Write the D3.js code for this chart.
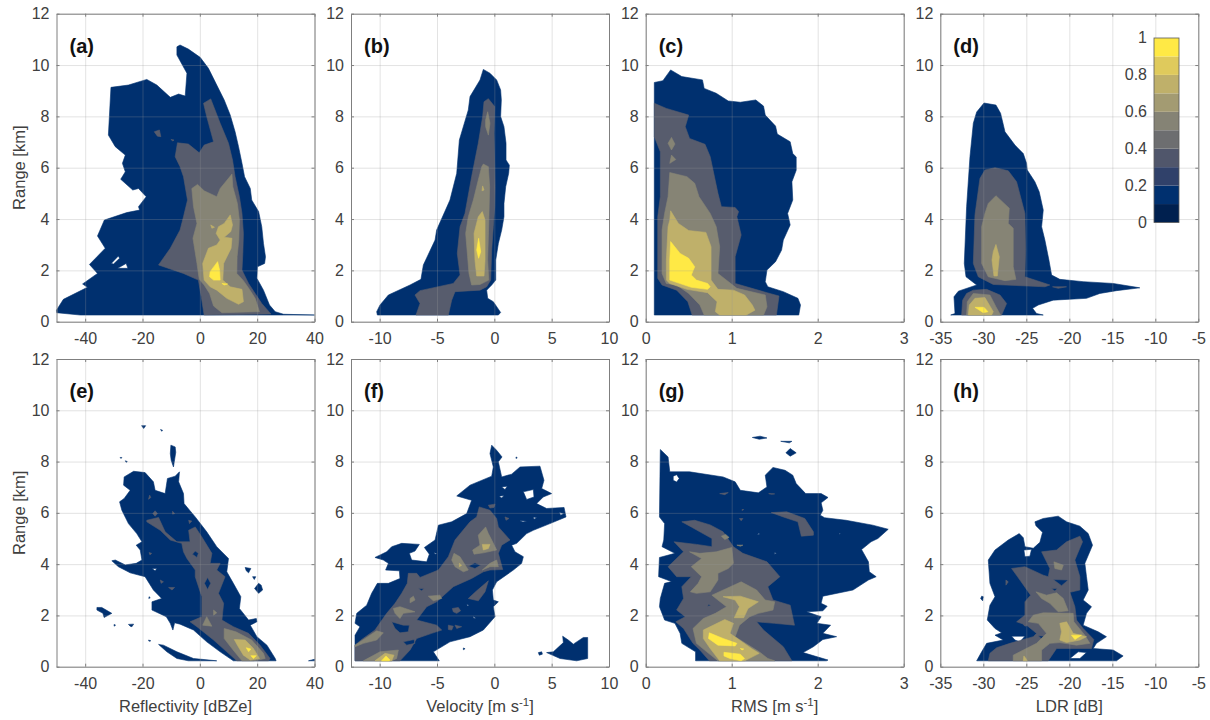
<!DOCTYPE html>
<html><head><meta charset="utf-8">
<script src="https://cdn.jsdelivr.net/npm/d3@7"></script>
<style>html,body{margin:0;padding:0;background:#fff}svg{display:block}</style>
</head><body><svg id="c" width="1210" height="720"></svg>
<script>
// contour bands as rings of [value, range km]
const a1=[[[-8,10.71],[-6.9,10.78],[-4,10.62],[.1,10.3],[3,9.87],[5.9,9.22],[8.5,8.64],[10.6,8.05],[12.3,7.4],[13.5,6.82],[14.7,6.17],[15.6,5.65],[17.6,5.19],[18.1,4.74],[20.5,4.29],[21.6,3.7],[22.2,3.05],[22.9,2.53],[22.6,2.27],[20.1,2.14],[19.9,1.69],[22.2,1.23],[24.3,.65],[26.3,.39],[29.2,.29],[40,.26],[-41.7,.26],[-49.9,.35],[-50,.45],[-47.6,.87],[-39.2,1.34],[-40.9,1.47],[-35.7,1.88],[-38.5,2.23],[-33,2.86],[-35.7,3.34],[-33.3,3.96],[-25.5,4.25],[-21,4.35],[-21.4,4.48],[-18.7,4.87],[-21.4,5.19],[-23.4,5.13],[-27.6,5.55],[-26,5.84],[-27,6.17],[-26,6.49],[-29.5,6.82],[-31.9,7.27],[-31,9.13],[-24.9,9.22],[-18.5,9.44],[-15,9.22],[-10.3,8.74],[-7.4,8.87],[-5.1,8.79],[-4.5,9.68],[-8,10.39]],
[[-30.9,2.27],[-28.4,2.56],[-28,2.47],[-30.1,2.25]],[[-28.7,2.08],[-25.7,2.27],[-25.1,2.08]]];
const a2=[[[1.3,8.51],[3.8,8.68],[7.1,7.73],[10,6.95],[11.4,6.3],[12.3,5.65],[13.8,4.87],[14.7,4.22],[15.2,3.44],[15,2.66],[14.7,2.01],[17,1.49],[19.3,1.1],[21.6,.71],[24.8,.3],[1.5,.26],[.5,.97],[-.5,1.62],[-5.7,1.88],[-14.4,2.21],[-10.3,2.86],[-6.9,3.57],[-5.7,4.09],[-4.3,4.74],[-5.7,5.65],[-6.9,6.04],[-8.6,6.43],[-7.8,6.97],[-4,6.92],[-.2,6.58],[1.5,6.88],[4.8,7.01],[2.4,7.99]],
[[-15.9,7.4],[-14.1,7.47],[-13.6,7.21],[-14.8,7.23]],[[-10.1,7.1],[-9,7.08],[-9.4,7.04]]];
const a3=[[[-2.8,5.19],[-.8,5.35],[1.5,5.1],[5.9,4.87],[7.1,5.19],[11.2,5.75],[11.5,5.26],[13.1,4.61],[13.8,3.96],[13.6,3.18],[13,2.53],[12.9,1.88],[15.2,1.6],[17.3,1.26],[19.3,.91],[20.8,.39],[7.7,.35],[4.8,.61],[3.4,1.1],[1.5,1.43],[-.2,1.65],[-1,2.27],[-2.4,3.25],[-1,3.83],[-2.2,4.48]]];
const a4=[[[10.6,4.16],[11.4,3.77],[10.8,3.51],[8.5,3.29],[11.2,3.25],[10.9,2.86],[8.3,2.27],[8,1.62],[10.6,1.36],[14.7,1.26],[15.2,.78],[13.5,.68],[9.4,.91],[5.9,1.23],[3.6,1.36],[1.5,1.62],[1,2.27],[3,2.86],[5.9,2.99],[7.1,3.18],[5.7,3.44],[6.5,3.7],[8.5,3.83]],[[3.8,3.77],[5.1,3.68],[4.2,3.64]]];
const a5=[[[6.2,2.34],[6.9,2.01],[7.1,1.62],[4.8,1.62],[3.4,1.75],[3.6,1.95]],[[7.7,1.49],[9.7,1.47],[8.5,1.43]]];

const b1=[[[-.96,9.83],[-.38,9.68],[.2,9.42],[.55,9.03],[.61,8.64],[.55,7.99],[.84,7.6],[1.02,6.95],[1.02,6.3],[1.31,6.1],[1.25,5.78],[.99,5.26],[.84,4.61],[.84,4.09],[.64,3.57],[.35,3.05],[.12,2.4],[.12,1.62],[-.23,1.43],[-.67,1.23],[-.58,.91],[-.09,.78],[.55,.36],[.35,.26],[-10.2,.26],[-10.26,.39],[-9.97,.65],[-9.24,1.04],[-7.35,1.43],[-6.4,1.65],[-6.19,2.21],[-5.17,3.18],[-5.03,3.57],[-3.87,4.74],[-3.28,5.78],[-3.05,7.08],[-2.27,8.25],[-2.12,8.77],[-1.25,9.42]]];
const b2=[[[-.52,8.69],[.03,8.38],[-.03,7.34],[.03,6.04],[.06,5.26],[.03,4.48],[-.09,3.7],[-.23,2.79],[-.32,1.62],[-.67,1.36],[-1.25,1.23],[-3.43,1.17],[-3.72,.84],[-4.01,.26],[-6.83,.26],[-6.48,.71],[-6.92,1.04],[-6.48,1.21],[-3.58,1.49],[-2.99,1.82],[-3.23,2.66],[-2.99,3.7],[-2.56,4.22],[-1.98,5.65],[-1.4,6.95],[-1.02,7.99],[-.9,8.57]]];
const b3=[[[-.58,8.18],[-.38,7.73],[-.52,7.27],[-.76,7.6],[-.76,7.86]],[[-.96,6.14],[-.52,6.04],[-.41,5.26],[-.47,4.09],[-.58,2.4],[-.49,1.62],[-1.25,1.45],[-1.98,1.43],[-2.21,1.88],[-2.33,2.53],[-2.5,3.44],[-2.27,4.09],[-1.83,4.74],[-1.4,5.52],[-1.1,6.04]]];
const b4=[[[-1.05,4.29],[-.81,3.96],[-.81,2.4],[-.9,1.78],[-1.54,1.78],[-1.69,2.4],[-1.77,3.44],[-1.4,4.09]],[[-1.02,5.29],[-.9,5.13],[-1.08,5.1]]];
const b5=[[[-1.37,3.25],[-1.19,2.73],[-1.37,2.47],[-1.54,2.79]]];

const c1=[[[.1,9.32],[.2,9.39],[.29,9.81],[.42,9.55],[.66,9.42],[.68,9.09],[.82,8.9],[.96,8.6],[1.1,8.55],[1.28,8.64],[1.37,8.4],[1.39,8.05],[1.51,7.62],[1.53,7.31],[1.68,7.01],[1.71,6.55],[1.75,6.42],[1.75,5.9],[1.7,5.45],[1.71,4.74],[1.65,4.22],[1.68,3.77],[1.6,3.18],[1.58,2.79],[1.51,2.34],[1.41,2.01],[1.39,1.56],[1.42,1.36],[1.6,1.17],[1.77,.91],[1.8,.65],[1.78,.26],[.1,.26]]];
const c2=[[[.1,8.51],[.24,8.31],[.5,8.05],[.46,7.6],[.51,7.14],[.69,6.91],[.75,6.43],[.84,5],[.88,4.48],[1.04,4.45],[1.08,4.29],[1.06,4.09],[1.11,3.38],[1.04,2.53],[1.04,1.49],[1.41,1.13],[1.55,1],[1.52,.26],[.54,.26],[.49,.78],[.36,1.23],[.19,1.43],[.14,1.69],[.14,4.09],[.17,4.87],[.17,6.62],[.1,7.21]]];
const c3=[[[.28,5.81],[.48,5.65],[.57,5.39],[.62,4.87],[.75,4.22],[.82,3.7],[.86,2.92],[.84,1.88],[1.06,1.3],[1.39,1.04],[1.41,.58],[1.37,.26],[.68,.26],[.63,.65],[.5,1.1],[.36,1.43],[.24,1.49],[.19,1.88],[.19,3.57],[.22,4.22],[.26,4.87]],[[.3,7.18],[.34,6.92],[.3,6.69],[.26,6.95]],[[.3,6.49],[.35,6.32],[.28,6.17]]];
const c4=[[[.29,4.32],[.38,3.83],[.5,3.55],[.7,3.48],[.76,2.92],[.76,1.62],[.84,1.26],[1.02,1.23],[1.15,1.04],[1.24,.65],[1.27,.45],[1.17,.26],[.86,.26],[.81,.39],[.83,.78],[.72,1.13],[.48,1.26],[.28,1.49],[.24,1.62],[.24,2.4],[.26,3.7],[.28,3.96]]];
const c5=[[[.29,3.12],[.4,2.66],[.5,2.47],[.57,2.14],[.53,1.82],[.59,1.62],[.72,1.49],[.75,1.36],[.72,1.26],[.53,1.34],[.28,1.62],[.28,2.4]]];

const d1=[[[-29.92,8.52],[-28.53,8.44],[-27.99,8.12],[-27.48,7.4],[-26.32,6.88],[-25.35,6.55],[-24.97,6.17],[-24.89,5.91],[-24,5.45],[-23.5,5.06],[-23.03,4.35],[-23.22,3.7],[-22.84,3.18],[-22.37,2.4],[-22.06,1.82],[-21.1,1.65],[-18.39,1.56],[-14.9,1.49],[-11.8,1.32],[-14.51,1.21],[-16.45,1.1],[-18,.91],[-21.87,.84],[-23.61,.65],[-24.27,.52],[-23.81,.32],[-23.03,.26],[-33.79,.26],[-33.29,.32],[-33.41,.97],[-32.9,1.19],[-30.77,1.43],[-32.01,1.75],[-32.21,2.27],[-31.94,4.48],[-31.55,6.43],[-31.16,7.73],[-30.77,8.17]]];
const d2=[[[-28.64,6],[-27.1,5.88],[-26.13,5.45],[-25.16,4.22],[-25.08,2.79],[-25.16,1.75],[-22.26,1.43],[-22.84,1.36],[-28.84,1.45],[-30.58,1.75],[-31.16,2.27],[-30.97,4.16],[-30.39,5.58],[-29.81,5.91]],[[-21.95,1.36],[-20.32,1.36],[-21.29,1.3]],[[-31.16,1.23],[-29.61,1.26],[-28.06,1.04],[-27.29,.71],[-27.87,.26],[-32.52,.26],[-32.4,.84],[-31.94,1.1]]];
const d3r=[[[-28.53,4.91],[-26.98,4.42],[-27.1,3.83],[-26.52,3.64],[-26.52,2.14],[-26.21,1.65],[-27.48,1.6],[-29.42,1.75],[-30.19,2.27],[-30.19,3.7],[-29.81,4.22],[-29.42,4.61]],[[-31.16,1.1],[-29.23,1.04],[-28.53,.58],[-27.99,.26],[-31.94,.26],[-31.86,.78]]];
const d4=[[[-28.53,3.01],[-28.14,2.53],[-28.37,1.78],[-28.76,1.78],[-28.99,2.4],[-28.84,2.73]],[[-30.97,.91],[-29.81,.94],[-28.84,.39],[-29.03,.26],[-31.74,.26],[-31.63,.65]]];
const d5=[[[-30.97,.56],[-29.92,.56],[-29.46,.39],[-30,.35]]];

const e1=[[[-26.4,7.4],[-23.1,7.62],[-19.1,7.57],[-16.2,7.21],[-15.6,6.88],[-12.1,6.75],[-11.3,7.34],[-8.6,7.43],[-7.1,7.6],[-7.4,7.21],[-5.7,6.75],[-5.5,6.36],[-1.6,5.84],[2.4,5.26],[5.9,4.68],[10,4.22],[9.4,3.7],[11.7,3.25],[14.3,2.73],[13.8,2.27],[17,1.82],[19.7,1.88],[19.9,1.75],[17.6,1.62],[19.9,1.17],[23.4,.84],[26.3,.32],[26.6,.23],[11.7,.23],[7.1,.58],[2.4,.97],[-2.2,1.43],[-6.9,1.66],[-8.8,1.71],[-9.4,1.43],[-10.3,1.69],[-11.7,1.95],[-16.7,2.21],[-16.7,2.53],[-13.3,2.66],[-16.2,2.99],[-19.1,3.51],[-24.3,3.66],[-28.4,3.9],[-30.7,4.13],[-29.5,4.16],[-26,3.97],[-22.2,4.03],[-20.2,4.16],[-20.8,4.55],[-22.2,4.74],[-20.2,4.87],[-22,5.19],[-24.9,5.58],[-27.2,6.1],[-28,6.43],[-26.4,6.56],[-24.3,6.88],[-26.6,7.08]],
[[-16.7,3.83],[-15,3.83],[-15.6,3.74]],
[[-10.1,8.64],[-8.6,8.57],[-8.4,8.36],[-9.2,7.79],[-10,8.05],[-10.3,8.31]],[[-20.3,9.4],[-18.9,9.4],[-19.6,9.29]],[[-13.7,9.25],[-13,9.22],[-13.3,9.18]],[[-27.8,8.16],[-27.2,8.16],[-27.5,8.12]],[[-26,8.03],[-25.3,8],[-25.7,7.97]],[[15.8,3.87],[17.8,3.83],[17,3.66],[16.2,3.74]],[[18.4,3.51],[19.5,3.51],[19,3.4]],[[20.5,3.25],[21.4,3.18],[21.9,2.99],[20.5,2.86],[19.1,3.05]],[[-35.9,2.31],[-34.2,2.31],[-30.7,2.08],[-33.4,1.92],[-33.8,2.08],[-35.9,2.21]],[[-24.9,1.65],[-23.1,1.66],[-23.7,1.56],[-24.3,1.58]],[[-29.9,1.65],[-29.4,1.62],[-29.9,1.58]],[[-17.9,1.04],[-17.1,1.01],[-17.7,.99]],[[-17.7,2.73],[-17.3,2.69],[-17.8,2.66]],[[-14.4,.87],[-12.7,.84],[-8,.58],[-2.2,.32],[5.9,.23],[-4,.23],[-8,.32],[-11.5,.58]],[[37.9,.23],[40,.29],[40,.23]]];
const e2=[[[-18.5,5.71],[-14.4,5.82],[-12.1,5.26],[-8,4.87],[-3.4,4.87],[-3.9,5.32],[-1.6,5.45],[.7,5.06],[4.2,4.42],[3.6,4.03],[7.1,4.03],[5.9,3.77],[8.8,3.51],[6.5,2.86],[8.3,2.47],[7.7,1.82],[11.7,1.56],[17,1.3],[21,.84],[24.5,.32],[24,.23],[12.9,.23],[9.4,.58],[4.8,1.04],[-1,1.56],[-3.4,1.75],[.7,1.95],[.7,2.73],[-1.6,3.51],[-1.6,3.77],[-4.5,4.22],[-5.7,4.48],[-6.3,4.81],[-10.3,4.94],[-13.8,5.32],[-18.5,5.65]],
[[-1.6,4.51],[-.5,4.42],[-1,4.26],[-2.6,4.39]],[[2.7,3.48],[3.8,3.25],[2.7,3.01],[1.6,3.25]],
[[-17.5,6.69],[-17.1,6.6],[-17.9,6.53]],[[-15.6,6.08],[-14.8,5.97],[-15.6,5.87],[-16.4,5.97]],[[-13.8,3.38],[-12.7,3.31],[-13.5,3.25]],[[-10.9,3.09],[-8.8,3.09],[-9.7,2.99]],[[-3.9,5.71],[-2.8,5.68],[-3.6,5.58]],[[-9.5,6.06],[-8.8,5.97],[-9.5,5.95]],[[-17.7,4.45],[-16.8,4.42],[-17.4,4.36]]];
const e3=[[[2.4,1.95],[4.2,1.58],[1,1.62]],[[4.8,2.21],[5.9,2.1],[4.8,2.01]],[[8.5,1.49],[12.6,1.36],[18.1,1.04],[22.2,.52],[22.8,.32],[18.7,.23],[14.7,.23],[11.2,.71],[8.5,1.1]]];
const e4=[[[12,1.06],[15.8,1.04],[18.7,.71],[20.8,.32],[17.6,.26],[15.2,.45],[13.1,.84]]];
const e5=[[[16.2,.74],[17.8,.69],[17,.58]],[[17.8,.43],[19.7,.43],[18.7,.32]]];

const f1=[[[-.23,8.64],[.2,8.44],[.67,8.18],[.35,7.99],[.64,7.4],[1.51,7.51],[2.24,7.79],[3.98,7.82],[4.33,7.27],[4.13,6.95],[5,6.75],[4.27,6.62],[3.69,6.36],[4.56,6.17],[6.08,6.21],[6.25,5.84],[4.85,5.58],[3.4,5.32],[2.82,5.19],[1.95,4.81],[1.51,4.74],[1.8,4.48],[2.53,4.29],[2.38,4.03],[1.66,3.77],[.2,3.31],[-.17,2.99],[-.09,2.6],[.35,2.53],[-.09,2.34],[.06,1.95],[-.96,1.43],[-2.12,1.17],[-3.87,.97],[-5.32,.58],[-4.8,.23],[-12.15,.23],[-12.15,1.23],[-11.72,1.56],[-12.15,1.69],[-12,2.08],[-11.13,2.4],[-10.7,2.86],[-10.2,3.25],[-9.24,3.25],[-8.23,3.44],[-8.28,3.74],[-9.48,3.77],[-9.24,4.03],[-9.68,4.16],[-10.41,4.26],[-9.39,4.48],[-8.95,4.68],[-8.08,4.81],[-6.54,4.77],[-6.92,4.51],[-7.41,4.42],[-7.21,4.16],[-5.9,4.09],[-5.67,4.39],[-6.1,4.65],[-5.17,4.94],[-4.88,5.52],[-3.72,5.65],[-2.41,5.97],[-1.98,6.49],[-3.28,6.66],[-2.12,7.08],[-.23,7.43],[-.09,7.79],[-.38,8.31]],
[[2.53,6.82],[3.4,6.91],[3.46,6.62],[2.82,6.52]],[[.64,7.01],[1.13,7.04],[.93,6.91]],[[.41,6.65],[.84,6.68],[.64,6.58]],[[2.2,5.69],[2.82,5.68],[2.5,5.64]],[[3.4,5.84],[3.69,5.81],[3.46,5.75]],[[5.67,6.01],[6.08,5.97],[5.78,5.91]],[[-5.26,4.44],[-4.97,4.42],[-5.17,4.39]],[[-1.83,1.97],[-1.6,1.88],[-1.83,1.9]],[[-2.4,2.44],[-2.2,2.4],[-2.35,2.37]],
[[4.56,.55],[5.15,.58],[6.02,.94],[5.96,1.19],[6.45,1.04],[6.89,.88],[7.76,1.14],[8.14,1.14],[8.14,.32],[7.18,.23],[5.73,.32]],[[3.84,.55],[4.13,.58],[4.19,.49],[3.92,.45]],[[1.89,8.18],[2,8.15],[1.89,8.12]],[[-2.7,.73],[-2.55,.7],[-2.7,.66]]];
const f2=[[[-1.31,6.23],[-.38,6.1],[.2,5.78],[.35,5.45],[1.37,4.94],[.64,4.74],[.35,4.42],[.73,3.79],[-.38,3.77],[-.96,3.7],[-1.98,3.44],[-3.58,3.12],[-5.03,2.53],[-5.9,2.34],[-6.77,1.82],[-5.03,1.62],[-4.59,1.43],[-5.47,1.3],[-6.77,1.1],[-7.35,.65],[-8.23,.23],[-12.15,.23],[-12.15,.84],[-11.57,1.06],[-10.41,1.43],[-9.39,2.08],[-8.66,2.47],[-8.08,2.86],[-7.59,3.25],[-7.5,3.64],[-6.77,3.64],[-6.48,3.48],[-4.88,3.77],[-4.01,4.29],[-3.43,4.94],[-2.12,5.65],[-1.54,5.84]],
[[-8.95,1.75],[-7.94,1.62],[-7.41,1.62],[-7.5,1.36],[-8.23,1.32],[-8.66,1.49]],[[-7.94,.97],[-7,1.06],[-6.92,.91],[-7.65,.84]],[[-2.27,3.92],[-1.69,4.05],[-1.19,3.96],[-1.69,3.83]],[[-6.63,3.05],[-6.13,3.05],[-6.34,2.96]],
[[-2.27,2.66],[-1.54,2.96],[-.52,3.35],[-.81,2.92],[-1.4,2.57]],[[-3.66,2.27],[-3.14,2.31],[-2.94,2.18],[-3.28,2.08],[-3.58,2.14]],[[-4.01,1.62],[-3.58,1.58],[-3.72,1.43],[-4.01,1.45]],[[-3.43,1.62],[-2.85,1.56],[-3.28,1.49]],[[-.52,6.3],[.06,6.34],[-.03,6.21],[-.38,6.19]],[[.93,5.84],[1.28,5.78],[1.02,5.71]]];
const f3=[[[-.76,5.45],[-.52,5.19],[-.23,4.94],[.06,4.68],[.2,4.55],[-.96,4.44],[-1.77,4.39],[-1.89,4.55],[-1.25,4.74],[-1.4,5.13]],[[-3.52,4.42],[-3,4.29],[-2.27,3.77],[-2.7,3.7],[-3.43,3.9],[-3.72,4.16]],[[-1.05,3.77],[-.38,4.03],[.2,4.16],[.35,3.9],[-.38,3.9]],[[-5.76,2.75],[-4.74,2.79],[-4.59,2.66],[-5.32,2.57]],[[-7.35,2.66],[-7.06,2.75],[-6.92,2.6],[-7.35,2.49]],[[-8.81,2.27],[-8.23,2.34],[-6.92,2.14],[-7.94,2.08],[-8.23,1.88],[-8.66,2.08]],[[-12.15,.84],[-10.26,1.4],[-9.68,1.32],[-10.26,1.04],[-11.42,.91],[-12.15,.78]],[[-11.42,.23],[-9.97,.58],[-8.37,.65],[-8.52,.32],[-8.95,.23]]];
const f4=[[[-1.05,4.77],[-.38,4.77],[-.52,4.61],[-.96,4.55]],[[-3.05,4.03],[-2.85,3.96],[-3.05,3.9]],[[-10.41,.23],[-9.53,.52],[-8.75,.45],[-8.95,.23]]];
const f5=[[[-9.83,.23],[-9.45,.42],[-9.1,.26],[-9.18,.23]]];

const g1=[[[.17,8.47],[.26,8.18],[.28,7.6],[.51,7.6],[.9,7.4],[1.04,7.21],[1.1,6.88],[1.31,6.78],[1.41,7.01],[1.39,7.47],[1.48,7.77],[1.62,7.66],[1.71,7.47],[1.75,7.14],[1.86,6.75],[2.04,6.75],[2.12,6.6],[2.04,6.39],[2.06,6.1],[2.03,5.91],[2.08,5.81],[2.33,5.71],[2.64,5.52],[2.82,5.36],[2.7,5],[2.62,4.87],[2.51,4.57],[2.59,4.09],[2.6,3.7],[2.68,3.51],[2.59,3.38],[2.41,2.99],[2.06,2.75],[2.04,2.47],[2.11,2.36],[2.06,2.18],[1.87,2.14],[2.04,1.95],[1.99,1.69],[2.15,1.62],[2.06,1.3],[2.22,1.17],[2.06,1.06],[1.95,.78],[1.83,.55],[2.12,.26],[2.1,.23],[.58,.23],[.58,.58],[.42,.91],[.4,1.3],[.34,1.69],[.22,1.82],[.16,2.34],[.17,2.66],[.22,3.25],[.3,3.32],[.15,3.51],[.16,4.26],[.34,4.42],[.19,4.68],[.21,4.94],[.22,5.58],[.16,5.84]],
[[.32,7.43],[.36,7.49],[.39,7.34],[.36,7.2],[.32,7.27]],[[1.31,5.2],[1.33,5.18],[1.3,5.16]],[[1.5,4.45],[1.52,4.42],[1.5,4.39]],[[2.25,5.2],[2.27,5.19],[2.25,5.17]],
[[1.24,8.94],[1.33,8.99],[1.41,8.92],[1.32,8.87]],[[1.57,8.79],[1.7,8.79],[1.67,8.73]],[[1.68,8.51],[1.75,8.34],[1.68,8.21],[1.63,8.34]]];
const g2=[[[.42,5.65],[.57,5.71],[.75,5.53],[.9,5.26],[1.02,4.68],[1.13,4.42],[1.41,4.09],[1.56,3.51],[1.42,3.12],[1.48,2.6],[1.68,2.4],[1.73,1.62],[1.5,1.69],[1.29,1.75],[1.37,1.43],[1.6,.78],[1.7,.23],[.74,.23],[.63,.65],[.55,.91],[.44,1.49],[.35,1.75],[.46,1.95],[.36,2.21],[.44,2.66],[.42,3.12],[.53,3.51],[.36,3.51],[.26,3.9],[.44,4.48],[.33,4.87],[.59,4.77],[.77,4.68],[.77,5],[.63,5.26],[.53,5.45]],
[[.73,2.44],[.76,2.39],[.72,2.36]],
[[1.46,6.01],[1.64,6.04],[1.85,5.78],[1.95,5.26],[1.95,5.13],[1.81,5.09],[1.77,5.65],[1.6,5.84]],[[.86,6.75],[.96,6.79],[.92,6.71]],[[1.43,6.75],[1.5,6.74],[1.46,6.73]],[[1.09,5.78],[1.13,5.78],[1.11,5.69]],[[1.12,6.13],[1.14,6.13],[1.12,6.09]]];
const g3=[[[.51,4.48],[.63,4.42],[.82,4.48],[1,4.65],[1.02,4.03],[.96,3.83],[.84,3.64],[.84,3.38],[.75,2.92],[.59,2.86],[.52,2.92],[.61,3.25],[.65,3.51],[.53,3.9],[.65,4.22]],[[.77,2.79],[.94,3.05],[1.11,3.31],[1.29,2.99],[1.39,2.6],[1.5,2.53],[1.48,2.21],[1.31,2.08],[1.21,1.95],[1.09,1.62],[1.04,1.17],[1.32,.58],[1.42,.32],[1.5,.23],[.84,.23],[.71,.58],[.59,.91],[.55,1.49],[.67,1.88],[.81,2.08],[.94,2.34],[.84,2.6]],[[.88,5.09],[.93,5.16],[.97,5.04],[.92,4.96]],[[1.06,4.74],[1.13,4.74],[1.1,4.7]]];
const g4=[[[.9,2.73],[1.1,2.75],[1.31,2.53],[1.19,2.27],[1.14,1.91],[1.03,1.91],[1.09,2.34],[1.04,2.6]],[[.67,1.43],[.92,1.84],[1.02,1.69],[.98,1.3],[1.23,.71],[1.32,.52],[1.15,.23],[.86,.23],[.75,.71],[.67,1.1]]];
const g5=[[[.74,1.32],[.9,1.1],[1.06,.91],[1.04,.81],[.84,.84],[.73,1.1]],[[.91,.56],[1.1,.49],[1.15,.32],[1.11,.23],[.98,.32],[.91,.42]],[[1.1,.71],[1.14,.69],[1.12,.65]]];

const h1=[[[-24,5.65],[-23.03,5.78],[-21.29,5.87],[-20.32,5.65],[-18.77,5.48],[-17.8,5.19],[-17.3,4.74],[-18.19,4.03],[-18,3.51],[-17.8,2.99],[-18.39,2.6],[-17.42,2.34],[-18,2.08],[-18.39,1.62],[-16.64,1.36],[-15.68,1.17],[-16.84,.91],[-17.22,.71],[-14.9,.65],[-13.74,.42],[-14.51,.23],[-30.77,.23],[-30.19,.58],[-29.61,.91],[-27.68,1.04],[-28.64,1.23],[-27.87,1.32],[-28.64,1.49],[-29.54,1.82],[-29.23,2.4],[-28.64,2.73],[-29.23,3.25],[-29.42,4.16],[-28.64,4.55],[-27.1,4.94],[-25.82,5.19],[-25.35,5.03],[-25.16,4.68],[-24.19,4.62],[-23.42,4.85],[-23.11,5.24],[-23.88,5.5]],
[[-26.71,1.19],[-25.16,1.19],[-25.74,.97],[-26.32,1.04]],[[-25.28,4.55],[-24.39,4.58],[-24.58,4.31],[-25.16,4.29]],[[-19.93,.32],[-18.97,.58],[-18,.55],[-18.77,.32]],[[-30.19,2.75],[-30,2.73],[-30.08,2.57],[-30.31,2.66]]];
const h2=[[[-18.77,5.09],[-18.46,4.87],[-19.35,4.16],[-18.77,3.51],[-18.77,2.99],[-19.93,2.9],[-19.35,2.34],[-19.16,1.82],[-18.39,1.49],[-17.15,1.06],[-17.42,.71],[-21.48,.71],[-22.45,.23],[-29.42,.23],[-29.23,.52],[-28.45,.74],[-26.9,.91],[-24.19,1.17],[-23.81,1.3],[-24.97,1.62],[-26.13,1.75],[-25.16,2.01],[-25.16,2.53],[-24.5,2.79],[-25.74,3.38],[-26.71,3.83],[-25.16,3.9],[-23.03,3.57],[-22.45,3.51],[-22.26,3.83],[-23.22,4.48],[-21.48,4.55],[-20.32,4.87]],
[[-21.87,3.4],[-20.13,3.38],[-20.9,3.16]],[[-22.06,3.05],[-21.4,3.05],[-21.68,2.95]],[[-23.61,1.21],[-22.72,1.19],[-23.22,1.08]],
[[-27.37,3.38],[-27.1,3.31],[-27.37,3.18]],[[-25.35,1.65],[-24.77,1.62],[-25.16,1.58]]];
const h3=[[[-21.79,4.09],[-20.7,3.96],[-20.9,3.77],[-21.68,3.83]],[[-23.88,2.92],[-22.65,2.79],[-21.48,2.88],[-20.7,2.66],[-20.13,2.18],[-21.29,2.14],[-22.26,2.47],[-23.22,2.66]],[[-24.19,2.01],[-23.03,2.1],[-19.55,2.08],[-19.47,1.75],[-18.19,1.23],[-17.61,.91],[-19.16,.84],[-21.1,.94],[-22.26,.91],[-23.22,.65],[-23.22,.23],[-26.52,.23],[-26.52,.45],[-25.35,.65],[-23.81,.91],[-22.65,1.3],[-23.61,1.69],[-24.77,1.75]]];
const h4=[[[-21.1,1.69],[-20.32,1.75],[-19.55,1.3],[-18,1.17],[-18.77,1.04],[-20.32,.94],[-21.1,1.04],[-20.9,1.36]],[[-25.28,.42],[-25.04,.32],[-24.89,.23],[-25.35,.23]]];
const h5=[[[-19.74,1.23],[-18.58,1.23],[-19.35,1.06]]];

const panelNames=["a","b","c","d","e","f","g","h"];
const panelBands=[[a1,a2,a3,a4,a5],[b1,b2,b3,b4,b5],[c1,c2,c3,c4,c5],[d1,d2,d3r,d4,d5],[e1,e2,e3,e4,e5],[f1,f2,f3,f4,f5],[g1,g2,g3,g4,g5],[h1,h2,h3,h4,h5]];
const xDomainByCol=[[-50,40],[-12.5,10],[0,3],[-35,-5]];
const xTicksByCol=[[-40,-20,0,20,40],[-10,-5,0,5,10],[0,1,2,3],[-35,-30,-25,-20,-15,-10,-5]];
const rangeTicks=[0,2,4,6,8,10,12];
const bandColors=["#00306f","#575c6d","#868475","#bfb06a","#ffe945"];
const cbColors=["#00204f","#00306f","#30416a","#50566b","#6d6e70","#858375","#a39b72","#bfb06a","#dfca5c","#ffe945"];
const cbEdges=[0,.1,.2,.3,.4,.5,.6,.7,.8,.9,1];
const cbTicks=[0,.2,.4,.6,.8,1];
const xLabels=[["Reflectivity [dBZe]"],["Velocity [m s","-1","]"],["RMS [m s","-1","]"],["LDR [dB]"]];

const colLeft=[56.5,351,645.7,940.3], plotW=258, plotH=[308,307.7], rowTop=[13.7,359];
const font="'Liberation Sans',Arial,sans-serif", txt="#404040", frame="#7f7f7f";
const svg=d3.select("#c").style("font-family",font);

panelNames.forEach((nm,i)=>{
  const col=i%4,row=i<4?0:1,W=plotW,H=plotH[row];
  const x=d3.scaleLinear().domain(xDomainByCol[col]).range([0,W]);
  const y=d3.scaleLinear().domain([0,12]).range([H,0]);
  const g=svg.append("g").attr("transform",`translate(${colLeft[col]},${rowTop[row]})`);
  const line=d3.line().x(d=>x(d[0])).y(d=>y(d[1]));
  panelBands[i].forEach((rings,k)=>{
    g.append("path").attr("d",rings.map(r=>line(r)+"Z").join("")).attr("fill",bandColors[k]).attr("fill-rule","evenodd").attr("stroke",bandColors[k]).attr("stroke-width",.6).attr("stroke-linejoin","round");
  });
  // grid above the fills
  const gridStyle=s=>s.selectAll("line").attr("stroke","#9a9a9a").attr("stroke-opacity",.28);
  const gx=g.append("g").attr("transform",`translate(0,${H})`).call(d3.axisBottom(x).tickValues(xTicksByCol[col]).tickSize(-H).tickFormat(""));
  gx.select(".domain").remove(); gridStyle(gx);
  const gy=g.append("g").call(d3.axisLeft(y).tickValues(rangeTicks).tickSize(-W).tickFormat(""));
  gy.select(".domain").remove(); gridStyle(gy);
  // frame and short inward ticks on all sides
  const bottom=g.append("g").attr("transform",`translate(0,${H})`).call(d3.axisBottom(x).tickValues(xTicksByCol[col]).tickSizeInner(-3).tickSizeOuter(0).tickPadding(11).tickFormat(d=>String(d)));
  const top=g.append("g").call(d3.axisTop(x).tickValues(xTicksByCol[col]).tickSizeInner(-3).tickSizeOuter(0).tickFormat(""));
  const left=g.append("g").call(d3.axisLeft(y).tickValues(rangeTicks).tickSizeInner(-3).tickSizeOuter(0).tickPadding(7).tickFormat(d=>String(d)));
  const right=g.append("g").attr("transform",`translate(${W},0)`).call(d3.axisRight(y).tickValues(rangeTicks).tickSizeInner(-3).tickSizeOuter(0).tickFormat(""));
  [bottom,top,left,right].forEach(a=>{
    a.selectAll(".domain,line").attr("stroke",frame);
    a.selectAll("text").attr("fill",txt).style("font-size","16px").style("font-family",font);
  });
  bottom.selectAll("text").attr("dy","0.71em");
  g.append("text").attr("x",13).attr("y",39).attr("font-weight","bold").attr("font-size",20).attr("fill","#111").text(`(${nm})`);
  if(col===0){
    g.append("text").attr("transform",`translate(-32,${H/2}) rotate(-90)`).attr("text-anchor","middle").attr("font-size",16.5).attr("fill",txt).text("Range [km]");
  }
  if(row===1){
    const t=g.append("text").attr("x",W/2).attr("y",H+45).attr("text-anchor","middle").attr("font-size",16.5).attr("fill",txt);
    xLabels[col].forEach((s,j)=>{
      const ts=t.append("tspan").text(s);
      if(j===1) ts.attr("dy",-6).attr("font-size",11.5);
      if(j===2) ts.attr("dy",6);
    });
  }
});

// colour bar in panel (d)
const cbY=d3.scaleLinear().domain([0,1]).range([222.5,38]);
const cb=svg.append("g").attr("transform","translate(1154,0)");
cbColors.forEach((c,i)=>{
  cb.append("rect").attr("x",0).attr("width",25).attr("y",cbY(cbEdges[i+1])).attr("height",cbY(cbEdges[i])-cbY(cbEdges[i+1])).attr("fill",c);
});
cb.append("rect").attr("x",0).attr("width",25).attr("y",cbY(1)).attr("height",cbY(0)-cbY(1)).attr("fill","none").attr("stroke","#5a5a5a").attr("stroke-width",.8);
cbTicks.forEach(v=>{
  cb.append("text").attr("x",-7).attr("y",cbY(v)).attr("dy","0.34em").attr("text-anchor","end").attr("font-size",16).attr("fill",txt).text(String(v));
});
</script></body></html>
